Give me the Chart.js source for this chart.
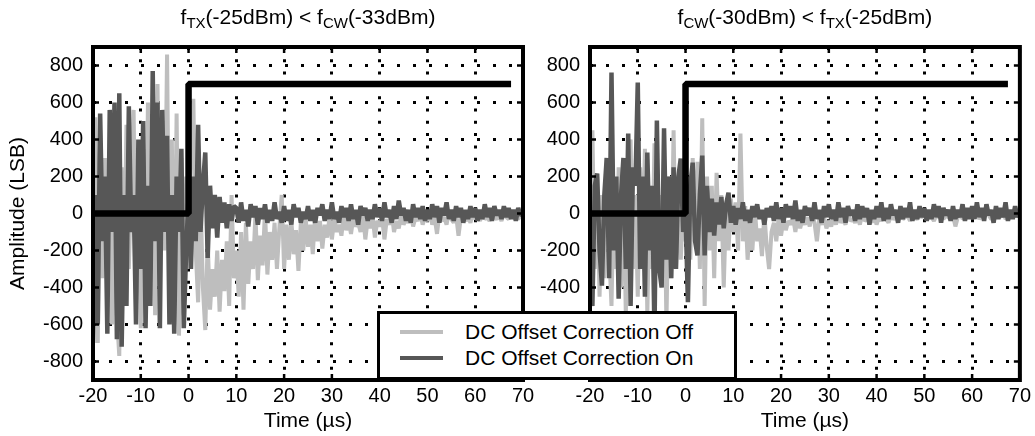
<!DOCTYPE html>
<html>
<head>
<meta charset="utf-8">
<script src="https://cdn.jsdelivr.net/npm/chart.js@4.4.0/dist/chart.umd.min.js"></script>
<style>
  body { margin: 0; background: #fff; }
  #wrap { position: relative; width: 1035px; height: 436px; overflow: hidden; font-family: 'Liberation Sans', Arial, sans-serif; }
  canvas { position: absolute; top: 0; }
  #left { left: 0; }
  #right { left: 530px; }
  #legend { position: absolute; left: 377px; top: 311px; width: 360px; height: 69px; box-sizing: border-box; border: 3px solid #000; background: #fff; }
  #legend .row { position: absolute; left: 0; height: 26px; width: 100%; }
  #legend .swatch { position: absolute; left: 20px; top: 11px; width: 43px; height: 4px; }
  #legend .label { position: absolute; left: 85px; top: 0; line-height: 26px; font-size: 21px; color: #000; white-space: nowrap; }
</style>
</head>
<body>
<div id="wrap">
  <canvas id="left" width="540" height="436"></canvas>
  <canvas id="right" width="505" height="436"></canvas>
  <div id="legend"></div>
</div>
<script>
// time axis (us), 0.5 us steps
const time = [
  -20,-19.5,-19,-18.5,-18,-17.5,-17,-16.5,-16,-15.5,-15,-14.5,-14,-13.5,-13,-12.5,-12,-11.5,-11,-10.5,
  -10,-9.5,-9,-8.5,-8,-7.5,-7,-6.5,-6,-5.5,-5,-4.5,-4,-3.5,-3,-2.5,-2,-1.5,-1,-0.5,
  0,0.5,1,1.5,2,2.5,3,3.5,4,4.5,5,5.5,6,6.5,7,7.5,8,8.5,9,9.5,
  10,10.5,11,11.5,12,12.5,13,13.5,14,14.5,15,15.5,16,16.5,17,17.5,18,18.5,19,19.5,
  20,20.5,21,21.5,22,22.5,23,23.5,24,24.5,25,25.5,26,26.5,27,27.5,28,28.5,29,29.5,
  30,30.5,31,31.5,32,32.5,33,33.5,34,34.5,35,35.5,36,36.5,37,37.5,38,38.5,39,39.5,
  40,40.5,41,41.5,42,42.5,43,43.5,44,44.5,45,45.5,46,46.5,47,47.5,48,48.5,49,49.5,
  50,50.5,51,51.5,52,52.5,53,53.5,54,54.5,55,55.5,56,56.5,57,57.5,58,58.5,59,59.5,
  60,60.5,61,61.5,62,62.5,63,63.5,64,64.5,65,65.5,66,66.5,67,67.5,68,68.5,69,69.5,
  70
];

// left panel: fTX(-25dBm) < fCW(-33dBm)
const leftOff = [
  -200,520,-700,450,-350,300,-450,200,-600,380,-550,-770,250,-400,480,-300,200,560,-500,300,
  -620,350,-450,600,-300,450,-550,700,-400,500,-200,860,-450,400,-600,540,-660,300,-550,200,
  -300,400,620,-200,-480,100,-400,-630,-150,-520,-300,-450,-200,-530,-250,-420,-150,-500,100,-350,
  -200,-450,-100,-520,-50,-380,-150,-300,0,-360,-120,-280,20,-330,-100,-250,-50,-300,-80,100,
  -300,-60,-250,-30,-220,-90,-310,-50,-200,-20,-180,-60,-220,0,-150,-40,-190,-60,-130,-20,
  -140,-30,-100,-60,-120,0,-90,-40,-110,-20,-70,-50,-100,0,-140,-30,-80,-10,-130,-40,
  -70,-20,-140,-30,-60,10,-100,-40,-80,-10,-60,-30,-50,10,-70,-20,-40,0,-60,-20,
  -40,10,-60,-20,-110,0,-40,-20,-60,10,-30,-50,-10,-120,-20,0,-40,-20,-50,0,
  -30,-10,-40,0,-30,-20,-40,10,-20,-30,-10,-40,0,-20,-30,0,-20,-10,-30,-10,
  -20
];
const leftOn = [
  -700,100,-600,540,-150,200,-650,560,-100,600,-680,650,-720,100,-500,580,-100,100,-600,400,
  -300,500,-620,150,-500,770,-150,600,-620,560,-100,420,-600,100,-650,200,-100,350,-620,-200,
  100,-300,200,-150,480,-100,150,330,-240,150,-80,100,-130,90,-50,60,-80,50,-40,40,
  30,-50,60,-40,20,-70,50,-20,40,-60,30,-30,50,-50,20,-40,60,-30,10,-50,
  40,-40,20,-60,50,-20,30,-50,10,-30,40,-40,20,-50,30,-10,50,-40,20,-30,
  60,-30,10,-50,40,-20,30,-40,50,-30,20,-60,40,-10,30,-40,20,-30,50,-20,
  30,-40,60,-20,20,-50,40,-30,70,-10,30,-40,20,-50,50,-20,30,-30,40,-40,
  20,-30,50,-20,40,-50,30,-10,60,-30,20,-40,40,-20,30,-50,20,-30,40,-20,
  30,-40,20,-30,50,-20,30,-40,40,-10,20,-30,40,-20,30,-30,20,-40,30,-10,
  0
];

// right panel: fCW(-30dBm) < fTX(-25dBm)
const rightOff = [
  -100,450,-300,200,-450,100,-350,300,-200,-500,150,-300,250,-400,200,-550,300,400,-300,100,
  -450,250,-200,350,-550,150,-300,380,-250,100,-400,300,-600,200,-350,450,-300,150,-250,50,
  -150,200,-250,300,-100,280,-300,515,-500,200,-200,150,-350,220,-150,100,-400,50,-200,80,
  -100,60,-200,432,-150,40,-250,-50,-200,30,-150,-80,-230,0,-180,-300,-100,-50,-150,-20,
  -120,-30,-90,-40,-60,-20,-100,-10,-80,-30,-60,-20,-70,0,-50,-150,-30,-60,-20,-80,
  -40,-70,-20,-60,-10,-50,-30,-60,0,-40,-30,-50,-20,-60,0,-40,-30,-20,-50,-10,
  -60,-20,-40,0,-30,-50,-10,-30,-20,-40,0,-30,-20,-10,-40,0,-20,-30,-10,-20,
  -10,-30,0,-20,-40,-10,-20,0,-30,-10,-20,-30,-10,-70,-20,0,-30,-10,-20,0,
  -20,-10,0,-30,-10,-20,0,-10,-30,-20,0,-10,-20,10,-30,-10,0,-20,-10,0,
  -10
];
const rightOn = [
  -300,-500,150,216,-200,-390,100,300,-350,762,-200,200,-460,100,300,-300,432,-500,250,150,
  708,-300,200,-450,330,-200,150,-650,503,-300,-400,460,-250,200,-350,250,-300,200,297,-100,
  0,-480,150,275,-150,-227,100,313,-227,150,-100,80,-120,60,-60,90,-80,50,113,-50,
  40,-60,30,-30,60,-40,20,-50,40,-20,50,-30,20,-60,30,-20,40,-40,60,-30,
  30,-50,50,-20,40,-30,70,-40,20,-50,40,-10,30,-40,60,-30,20,-50,40,-20,
  50,-30,20,-40,60,-20,30,-50,40,-10,20,-40,50,-30,40,-20,30,-60,20,-30,
  40,-20,60,-40,30,-30,50,-10,20,-50,40,-30,30,-20,60,-40,20,-30,40,-20,
  30,-40,20,-30,50,-20,40,-50,30,-10,20,-40,40,-30,20,-20,50,-40,30,-30,
  40,-30,60,-20,30,-40,50,-10,20,-50,40,-30,30,-20,60,-40,20,-30,40,-20,
  10
];

// TX enable step
const stepX = [-20, 0, 0, 67.5];
const stepY = [0, 0, 700, 700];

const xTicks = [-20, -10, 0, 10, 20, 30, 40, 50, 60, 70];
const yTicks = [-800, -600, -400, -200, 0, 200, 400, 600, 800];

const legendLabels = ['DC Offset Correction Off', 'DC Offset Correction On'];
const offColor = '#bebebe';
const onColor = '#575757';

const FONT = "'Liberation Sans', Arial, sans-serif";

const toPoints = (xs, ys) => xs.map((x, i) => ({ x: x, y: ys[i] }));

const framePlugin = {
  id: 'frame',
  afterDraw(chart, args, opts) {
    const { ctx, chartArea: a } = chart;
    const xs = chart.scales.x, ys = chart.scales.y;
    ctx.save();
    ctx.strokeStyle = '#000';
    ctx.lineWidth = 2.5;
    ctx.beginPath();
    xTicks.forEach((v) => {
      const px = xs.getPixelForValue(v);
      ctx.moveTo(px, a.top); ctx.lineTo(px, a.top + 6);
      ctx.moveTo(px, a.bottom); ctx.lineTo(px, a.bottom - 6);
    });
    yTicks.forEach((v) => {
      const py = ys.getPixelForValue(v);
      ctx.moveTo(a.left, py); ctx.lineTo(a.left + 6, py);
      ctx.moveTo(a.right, py); ctx.lineTo(a.right - 6, py);
    });
    ctx.stroke();
    ctx.lineWidth = 4;
    ctx.strokeRect(a.left, a.top, a.right - a.left, a.bottom - a.top);

    // title with subscripts
    const big = '21px ' + FONT, small = '15px ' + FONT;
    let total = 0;
    opts.title.forEach(([txt, sub]) => { ctx.font = sub ? small : big; total += ctx.measureText(txt).width; });
    let x = (a.left + a.right) / 2 - total / 2;
    ctx.fillStyle = '#000';
    ctx.textBaseline = 'alphabetic';
    ctx.textAlign = 'left';
    opts.title.forEach(([txt, sub]) => {
      ctx.font = sub ? small : big;
      ctx.fillText(txt, x, sub ? 28 : 24);
      x += ctx.measureText(txt).width;
    });
    ctx.restore();
  }
};

function makePanel(id, title, offData, onData, yWidth, padRight, yTitle) {
  const ctx = document.getElementById(id).getContext('2d');
  return new Chart(ctx, {
    type: 'line',
    data: {
      datasets: [
        { label: 'step', data: toPoints(stepX, stepY), borderColor: '#000', borderWidth: 6.5, order: 0 },
        { label: legendLabels[1], data: toPoints(time, onData), borderColor: onColor, borderWidth: 4.5, order: 1 },
        { label: legendLabels[0], data: toPoints(time, offData), borderColor: offColor, borderWidth: 4, order: 2 },
      ],
    },
    options: {
      responsive: false,
      animation: false,
      events: [],
      layout: { padding: { top: 47, right: padRight, left: 0, bottom: 0 } },
      elements: {
        point: { radius: 0 },
        line: { tension: 0, borderJoinStyle: 'bevel', fill: false },
      },
      plugins: {
        legend: { display: false },
        tooltip: { enabled: false },
        frame: { title: title },
      },
      scales: {
        x: {
          type: 'linear',
          min: -20,
          max: 70,
          afterBuildTicks: (s) => { s.ticks = xTicks.map((v) => ({ value: v })); },
          afterFit: (s) => { s.height = 56; },
          ticks: { color: '#000', font: { family: FONT, size: 20 }, padding: 4, maxRotation: 0, autoSkip: false },
          grid: { color: '#000', lineWidth: 3, drawTicks: false },
          border: { display: false, dash: [3, 9.3] },
          title: { display: true, text: 'Time (\u00b5s)', color: '#000', font: { family: FONT, size: 21 }, padding: { top: 0, bottom: 2 } },
        },
        y: {
          min: -900,
          max: 900,
          afterBuildTicks: (s) => { s.ticks = yTicks.map((v) => ({ value: v })); },
          afterFit: (s) => { s.width = yWidth; },
          ticks: { color: '#000', font: { family: FONT, size: 20 }, padding: 10 },
          grid: { color: '#000', lineWidth: 3, drawTicks: false },
          border: { display: false, dash: [3, 13] },
          title: { display: yTitle, text: 'Amplitude (LSB)', color: '#000', font: { family: FONT, size: 21 }, padding: { top: 6, bottom: 0 } },
        },
      },
    },
    plugins: [framePlugin],
  });
}

makePanel('left', [['f', 0], ['TX', 1], ['(-25dBm) < f', 0], ['CW', 1], ['(-33dBm)', 0]], leftOff, leftOn, 93, 17, true);
makePanel('right', [['f', 0], ['CW', 1], ['(-30dBm) < f', 0], ['TX', 1], ['(-25dBm)', 0]], rightOff, rightOn, 60, 14, false);

// legend box
const legend = document.getElementById('legend');
[offColor, onColor].forEach((c, i) => {
  const row = document.createElement('div');
  row.className = 'row';
  row.style.top = (5 + i * 26) + 'px';
  row.innerHTML = '<div class="swatch" style="background:' + c + '"></div><div class="label">' + legendLabels[i] + '</div>';
  legend.appendChild(row);
});
</script>
</body>
</html>
